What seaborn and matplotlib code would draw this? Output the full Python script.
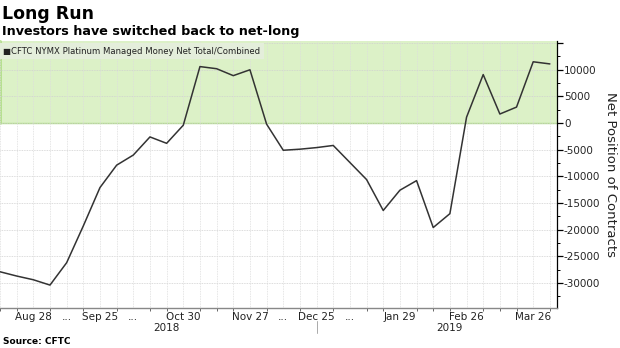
import matplotlib
matplotlib.use("Agg")
import matplotlib.pyplot as plt
import matplotlib.dates as mdates
import seaborn as sns
import pandas as pd
import numpy as np

# ---- data (weekly CFTC reports) ----
dates = pd.date_range("2018-08-14", "2019-04-02", freq="7D")
net_position = [-27900, -28700, -29400, -30400, -26200, -19300, -12100, -7900,
                -6000, -2600, -3800, -400, 10600, 10200, 8900, 10000,
                -200, -5100, -4900, -4600, -4200, -7400, -10600, -16400,
                -12600, -10800, -19600, -17000, 1100, 9100, 1700, 3000,
                11500, 11100]
series_name = "CFTC NYMX Platinum Managed Money Net Total/Combined"
tick_dates = ["2018-08-28", "2018-09-11", "2018-09-25", "2018-10-09", "2018-10-30",
              "2018-11-27", "2018-12-11", "2018-12-25", "2019-01-08", "2019-01-29",
              "2019-02-26", "2019-03-26"]
tick_labels = ["Aug 28", "...", "Sep 25", "...", "Oct 30", "Nov 27", "...",
               "Dec 25", "...", "Jan 29", "Feb 26", "Mar 26"]
years = ["2018", "2019"]
title = "Long Run"
subtitle = "Investors have switched back to net-long"
source = "Source: CFTC"
ylabel = "Net Position of Contracts"

df = pd.DataFrame({"date": dates, "value": net_position})

sns.set_theme(style="white")
plt.rcParams["font.family"] = ["DejaVu Sans"]

W, H = 620, 348
fig = plt.figure(figsize=(W / 100, H / 100), dpi=100)
ax = fig.add_axes([0.0, 1 - 308 / H, 557 / W, (308 - 41) / H])

ymin, ymax = -34700, 15400
xmin, xmax = pd.Timestamp("2018-08-14"), pd.Timestamp("2019-04-05")

# green positive band
ax.axhspan(0, ymax, facecolor="#dcf1c7", edgecolor="none", zorder=0)
ax.axhline(0, color="#b2df8a", lw=1.0, zorder=1)
ax.plot([xmin, xmin], [0, ymax], color="#b2df8a", lw=2.0, zorder=1, clip_on=False)

sns.lineplot(data=df, x="date", y="value", ax=ax, color="#333333", lw=1.1,
             zorder=3, legend=False)

ax.set_xlim(xmin, xmax)
ax.set_ylim(ymin, ymax)
ax.set_xlabel("")

# grid
for y in np.arange(-30000, 15001, 5000):
    ax.axhline(y, color="#d0d0d0", lw=0.6, ls=(0, (1, 1)), zorder=1.5)
for d in dates:
    ax.axvline(d, color="#dddddd", lw=0.6, ls=(0, (1, 1)), zorder=1.5)

# spines
for s in ["top", "left"]:
    ax.spines[s].set_visible(False)
ax.spines["right"].set_color("black")
ax.spines["right"].set_linewidth(0.9)
ax.spines["bottom"].set_color("#888888")
ax.spines["bottom"].set_linewidth(1.0)

# y axis on the right
ax.yaxis.tick_right()
ax.yaxis.set_label_position("right")
major_y = np.arange(-30000, 15001, 5000)
ax.set_yticks(major_y)
ax.set_yticks(np.arange(-32500, 15001, 2500), minor=True)
labs = []
for v in major_y:
    labs.append("" if v == 15000 else ("-%d" % -v if v < 0 else "%d" % v))
ax.set_yticklabels(labs)
ax.tick_params(axis="y", which="major", length=4, width=0.9, color="black",
               labelsize=7.5, pad=1, direction="out", right=True, left=False)
ax.tick_params(axis="y", which="minor", length=2, width=0.7, color="black",
               right=True, left=False)
ax.set_ylabel(ylabel, rotation=270, labelpad=12, fontsize=9.5, color="#222222")

# x axis
ax.set_xticks([mdates.date2num(d) for d in dates], minor=True)
ax.set_xticks([mdates.date2num(pd.Timestamp(d)) for d in tick_dates])
ax.set_xticklabels(tick_labels)
ax.tick_params(axis="x", which="major", length=0, labelsize=7.5, pad=3, colors="#222222")
ax.tick_params(axis="x", which="minor", length=2.5, width=0.7, color="#666666", bottom=True)

# year labels and separator
ax.text(mdates.date2num(pd.Timestamp("2018-10-23")), -0.075, years[0],
        transform=ax.get_xaxis_transform(), ha="center", va="center", fontsize=7.5,
        color="#222222")
ax.text(mdates.date2num(pd.Timestamp("2019-02-19")), -0.075, years[1],
        transform=ax.get_xaxis_transform(), ha="center", va="center", fontsize=7.5,
        color="#222222")
ax.plot([pd.Timestamp("2018-12-25")] * 2, [-0.05, -0.095], color="#aaaaaa", lw=0.7,
        transform=ax.get_xaxis_transform(), clip_on=False)

# legend box
ax.text(0.006, 0.962, "\u25a0" + series_name, transform=ax.transAxes, ha="left",
        va="center", fontsize=6.1, color="#222222",
        bbox=dict(boxstyle="square,pad=0.4", facecolor="#e4eedb", edgecolor="none"),
        zorder=5)

# titles
fig.text(0.004, 1 - 14 / H, title, ha="left", va="center", fontsize=12.5,
         fontweight="bold", color="black")
fig.text(0.004, 1 - 32 / H, subtitle, ha="left", va="center", fontsize=9.2,
         fontweight="bold", color="black")
fig.text(0.005, 1 - 341 / H, source, ha="left", va="center", fontsize=6.5,
         fontweight="bold", color="black")

fig.savefig("out.png", dpi=100)
